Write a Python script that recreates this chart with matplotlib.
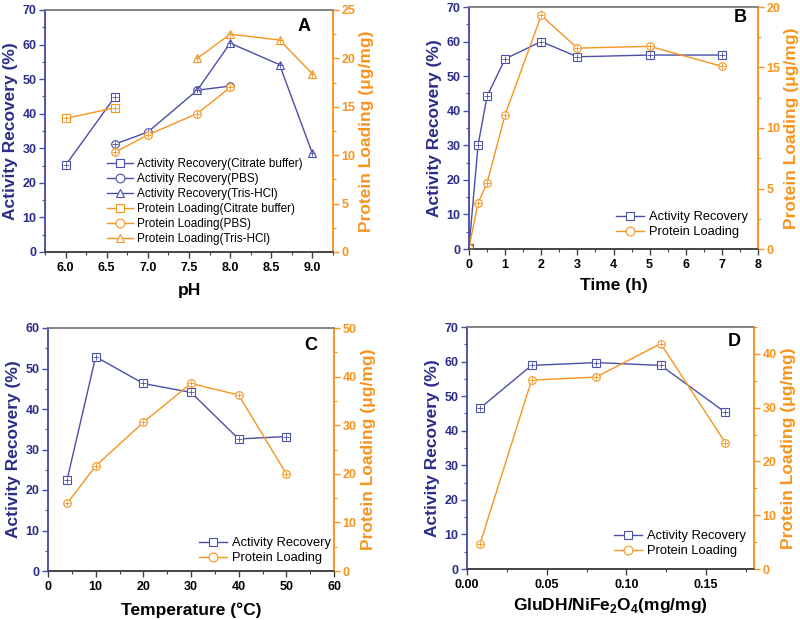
import matplotlib.pyplot as plt
from matplotlib.ticker import MultipleLocator

plt.rcParams['font.family'] = ['Liberation Sans', 'DejaVu Sans']
plt.rcParams['mathtext.fontset'] = 'custom'
plt.rcParams['mathtext.bf'] = 'Liberation Sans:bold'
plt.rcParams['mathtext.rm'] = 'Liberation Sans'

BLUE = "#4a4fa8"
NAVY = "#2b2d87"
ORANGE = "#f7941d"

# Panel A: pH (three buffers)
ph_citrate = [6.0, 6.6]
ar_citrate = [25.1, 44.9]
pl_citrate = [13.8, 14.9]
ph_pbs = [6.6, 7.0, 7.6, 8.0]
ar_pbs = [31.2, 34.7, 46.8, 48.0]
pl_pbs = [10.3, 12.1, 14.3, 17.0]
ph_tris = [7.6, 8.0, 8.6, 9.0]
ar_tris = [46.8, 60.4, 54.2, 28.5]
pl_tris = [20.0, 22.5, 21.9, 18.4]

# Panel B: time
time_h = [0, 0.25, 0.5, 1, 2, 3, 5, 7]
ar_time = [0.3, 30.0, 44.2, 55.0, 60.0, 55.6, 56.1, 56.1]
pl_time = [0.1, 3.8, 5.45, 11.1, 19.3, 16.6, 16.75, 15.1]

# Panel C: temperature
temp_c = [4, 10, 20, 30, 40, 50]
ar_temp = [22.5, 52.9, 46.3, 44.1, 32.6, 33.2]
pl_temp = [13.9, 21.6, 30.6, 38.6, 36.2, 20.0]

# Panel D: enzyme / carrier ratio
ratio = [0.0081, 0.0405, 0.081, 0.1215, 0.162]
ar_ratio = [46.5, 58.9, 59.7, 58.9, 45.3]
pl_ratio = [4.6, 35.1, 35.7, 41.9, 23.5]

W, H = 800, 620


def fig_rect(left, top, right, bottom):
    return [left / W, 1 - bottom / H, (right - left) / W, (bottom - top) / H]


def plot_series(ax, x, y, color, marker, label):
    ax.plot(x, y, color=color, lw=1.0, marker=marker, ms=5.5, mfc="white",
            mec=color, mew=0.8, label=label)
    # small error-bar crosses inside the markers
    ax.plot(x, y, ls="none", marker="+", ms=4, mec=color, mew=0.6)


def style_axes(ax, ax2, xlabel, letter, letter_xy, xlim, xmajor, ylim, ymajor,
               y2lim, y2major, xpad=7):
    ax.set_xlim(*xlim)
    ax.set_ylim(*ylim)
    ax2.set_ylim(*y2lim)
    ax.xaxis.set_major_locator(MultipleLocator(xmajor))
    ax.xaxis.set_minor_locator(MultipleLocator(xmajor / 2))
    ax.yaxis.set_major_locator(MultipleLocator(ymajor))
    ax.yaxis.set_minor_locator(MultipleLocator(ymajor / 2))
    ax2.yaxis.set_major_locator(MultipleLocator(y2major))
    ax2.yaxis.set_minor_locator(MultipleLocator(y2major / 2))

    for a in (ax, ax2):
        a.spines["left"].set_color(BLUE)
        a.spines["right"].set_color(ORANGE)
        a.spines["top"].set_color("#808080")
        a.spines["bottom"].set_color("#404040")
        for s in a.spines.values():
            s.set_linewidth(1.1)

    ax.tick_params(axis="x", which="both", colors="#404040", labelcolor="black",
                   labelsize=9, direction="out", pad=3)
    ax.tick_params(axis="y", which="both", colors=BLUE, labelcolor=NAVY,
                   labelsize=9, direction="out", pad=2)
    ax2.tick_params(axis="y", which="both", colors=ORANGE, labelcolor=ORANGE,
                    labelsize=9, direction="out", pad=2)
    for a, axis in [(ax, "x"), (ax, "y"), (ax2, "y")]:
        a.tick_params(axis=axis, which="major", length=4, width=1)
        a.tick_params(axis=axis, which="minor", length=2.2, width=0.8)
    for lab in ax.get_xticklabels() + ax.get_yticklabels() + ax2.get_yticklabels():
        lab.set_fontweight("bold")

    ax.set_xlabel(xlabel, fontsize=12.5, fontweight="bold", labelpad=xpad)
    ax.set_ylabel("Activity Recovery (%)", fontsize=12.5, fontweight="bold",
                  color=NAVY, labelpad=3)
    ax2.set_ylabel("Protein Loading (\u03bcg/mg)", fontsize=12.5, fontweight="bold",
                   color=ORANGE, labelpad=3)
    ax.text(letter_xy[0], letter_xy[1], letter, transform=ax.transAxes, fontsize=13,
            fontweight="bold", ha="center", va="center")


def add_legend(ax, handles, labels, x, top, fontsize, spacing):
    ax.legend(handles, labels, loc="upper left", bbox_to_anchor=(x / W, 1 - top / H),
              bbox_transform=ax.figure.transFigure, frameon=False, fontsize=fontsize,
              handlelength=2.2, handletextpad=0.35, labelspacing=spacing,
              borderpad=0, borderaxespad=0, markerscale=1.15)


fig = plt.figure(figsize=(8, 6.2), dpi=100)

# ---- A ----
axA = fig.add_axes(fig_rect(45, 10, 333, 252))
axA2 = axA.twinx()
plot_series(axA, ph_citrate, ar_citrate, BLUE, "s", "Activity Recovery(Citrate buffer)")
plot_series(axA, ph_pbs, ar_pbs, BLUE, "o", "Activity Recovery(PBS)")
plot_series(axA, ph_tris, ar_tris, BLUE, "^", "Activity Recovery(Tris-HCl)")
plot_series(axA2, ph_citrate, pl_citrate, ORANGE, "s", "Protein Loading(Citrate buffer)")
plot_series(axA2, ph_pbs, pl_pbs, ORANGE, "o", "Protein Loading(PBS)")
plot_series(axA2, ph_tris, pl_tris, ORANGE, "^", "Protein Loading(Tris-HCl)")
style_axes(axA, axA2, "pH", "A", (0.90, 0.93), (5.75, 9.25), 0.5, (0, 70), 10, (0, 25), 5)
axA.xaxis.set_minor_locator(MultipleLocator(0.25))
h1, l1 = axA.get_legend_handles_labels()
h2, l2 = axA2.get_legend_handles_labels()
add_legend(axA2, h1 + h2, l1 + l2, 107, 158, 8.5, 0.25)

# ---- B ----
axB = fig.add_axes(fig_rect(469, 7, 758, 249))
axB2 = axB.twinx()
plot_series(axB, time_h, ar_time, BLUE, "s", "Activity Recovery")
plot_series(axB2, time_h, pl_time, ORANGE, "o", "Protein Loading")
style_axes(axB, axB2, "Time (h)", "B", (0.94, 0.955), (0, 8), 1, (0, 70), 10, (0, 20), 5,
           xpad=5)
axB.xaxis.set_minor_locator(MultipleLocator(0.5))

# ---- C ----
axC = fig.add_axes(fig_rect(48, 328, 334, 571))
axC2 = axC.twinx()
plot_series(axC, temp_c, ar_temp, BLUE, "s", "Activity Recovery")
plot_series(axC2, temp_c, pl_temp, ORANGE, "o", "Protein Loading")
style_axes(axC, axC2, "Temperature (\u00b0C)", "C", (0.92, 0.93), (0, 60), 10, (0, 60), 10, (0, 50), 10)

# ---- D ----
axD = fig.add_axes(fig_rect(467, 327, 754, 569))
axD2 = axD.twinx()
plot_series(axD, ratio, ar_ratio, BLUE, "s", "Activity Recovery")
plot_series(axD2, ratio, pl_ratio, ORANGE, "o", "Protein Loading")
style_axes(axD, axD2, "GluDH/NiFe$_\\mathbf{2}$O$_\\mathbf{4}$(mg/mg)", "D", (0.93, 0.94),
           (0, 0.18), 0.05, (0, 70), 10, (0, 45), 10, xpad=4)
axD.xaxis.set_major_formatter(plt.FormatStrFormatter("%.2f"))
for lab in axD.get_xticklabels():
    lab.set_fontweight("bold")

legend_spots = [(axB, axB2, 616, 211), (axC, axC2, 199, 537), (axD, axD2, 614, 530)]
for ax, ax2, lx, ly in legend_spots:
    h1, l1 = ax.get_legend_handles_labels()
    h2, l2 = ax2.get_legend_handles_labels()
    add_legend(ax2, h1 + h2, l1 + l2, lx, ly, 9.3, 0.25)

fig.savefig("out.png", dpi=100)
